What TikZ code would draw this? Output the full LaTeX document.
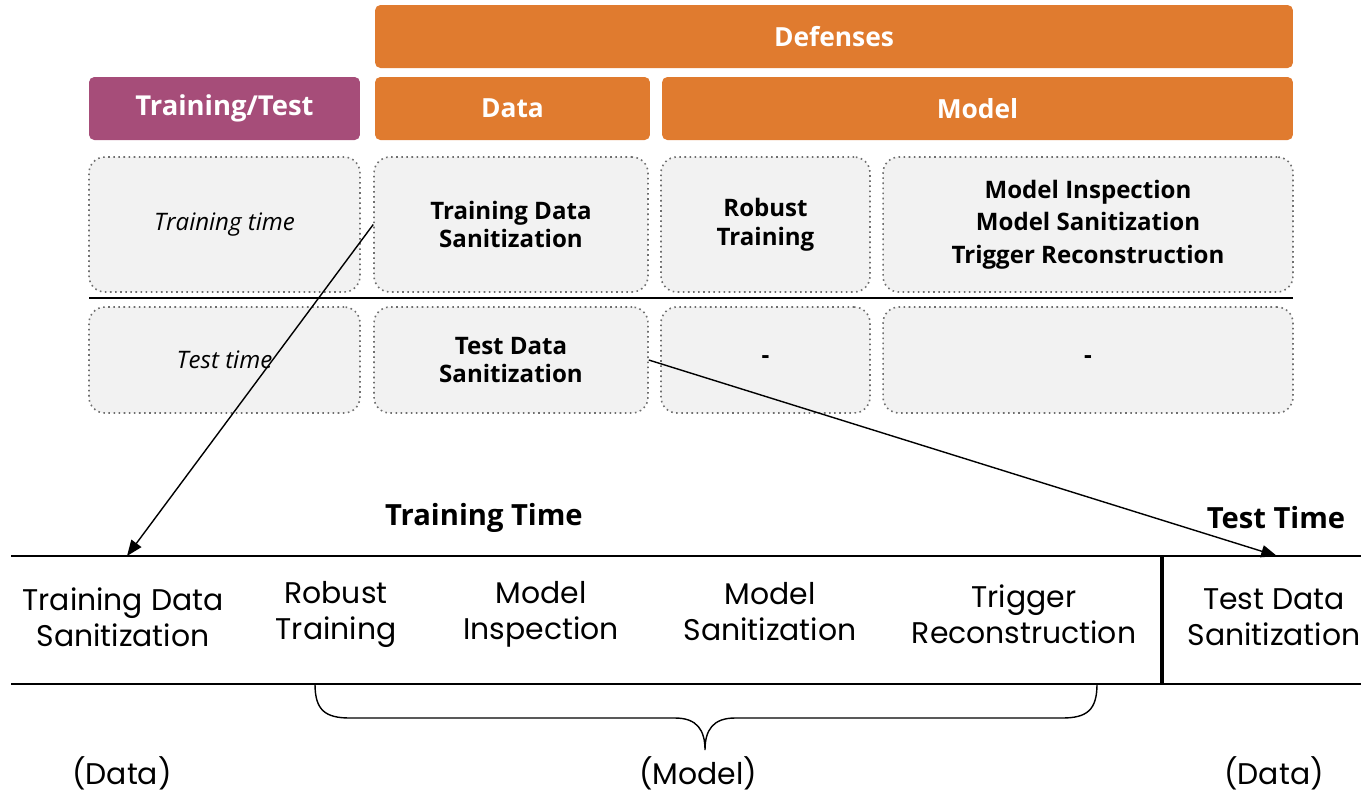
\documentclass[tikz,border=0pt]{standalone}
\usepackage{fontspec}
\setmainfont{Open Sans}
\newfontfamily\geofont{Poppins}
\usetikzlibrary{arrows.meta,positioning,calc}
\definecolor{headorange}{HTML}{E07B2F}
\definecolor{headpurple}{HTML}{A64D79}
\definecolor{cellfill}{HTML}{F2F2F2}
\definecolor{celldots}{HTML}{6E6E6E}

\begin{document}
\begin{tikzpicture}[x=0.02cm, y=-0.02cm,
  header/.style={rounded corners=3pt, minimum height=1.26cm, align=center, text=white, font=\fontsize{15}{18}\selectfont\bfseries, fill=headorange, inner sep=0pt},
  cell/.style={draw=celldots, dotted, line width=0.9pt, rounded corners=9pt, fill=cellfill, align=center, font=\fontsize{13.7}{16.3}\selectfont\bfseries, inner sep=0pt},
  phase/.style={align=center, font=\geofont\fontsize{17}{20.5}\selectfont, inner sep=0pt},
  when/.style={font=\fontsize{16.6}{19}\selectfont\bfseries, inner sep=0pt},
  arr/.style={-{Triangle[length=9pt,width=7pt]}, line width=0.8pt},
  rule/.style={line width=1.1pt}
]
  \useasboundingbox (0,0) rectangle (1361,792);

  % header rows
  \node[header, minimum width=18.36cm] (def) at (834,36.5) {Defenses};
  \node[header, minimum width=5.42cm, fill=headpurple, font=\fontsize{15.6}{18}\selectfont\bfseries] (tt) at (224.5,108.5) {Training/Test};
  \node[header, minimum width=5.5cm] (data) at (512.5,108.5) {Data};
  \node[header, minimum width=12.62cm] (model) at (977.5,108.5) {Model};

  % training row
  \node[cell, minimum width=5.42cm, minimum height=2.7cm, font=\fontsize{13.7}{17}\selectfont\itshape] (trtime) at (224.5,224.5) {Training time};
  \node[cell, minimum width=5.48cm, minimum height=2.7cm] (trdata) at (511,224.5) {Training Data\\Sanitization};
  \node[cell, minimum width=4.18cm, minimum height=2.7cm] (robust) at (765.5,224.5) {Robust\\Training};
  \node[cell, minimum width=8.2cm, minimum height=2.7cm, font=\fontsize{13.7}{18.5}\selectfont\bfseries] (modelops) at (1088,224.5) {Model Inspection\\Model Sanitization\\Trigger Reconstruction};

  \draw[rule] (89,298) -- (1293,298);

  % test row
  \node[cell, minimum width=5.42cm, minimum height=2.12cm, font=\fontsize{13.7}{17}\selectfont\itshape] (tetime) at (224.5,360) {Test time};
  \node[cell, minimum width=5.48cm, minimum height=2.12cm] (tedata) at (511,360) {Test Data\\Sanitization};
  \node[cell, minimum width=4.18cm, minimum height=2.12cm] (terobust) at (765.5,360) {-};
  \node[cell, minimum width=8.2cm, minimum height=2.12cm] (temodel) at (1088,360) {-};

  % timeline
  \coordinate (ttop) at (11,556);
  \coordinate (tend) at (1361,556);
  \coordinate (btop) at (11,684);
  \coordinate (bend) at (1361,684);
  \coordinate (trin) at (127,556);
  \coordinate (tein) at (1277,556);
  \draw[rule] (ttop) -- (tend);
  \draw[rule] (btop) -- (bend);
  \draw[line width=1.8pt] (1162,556) -- (1162,684);

  \node[when] (trtitle) at (484,518) {Training Time};
  \node[when] (tetitle) at (1276,518) {Test Time};

  \node[phase] (p1) at (123,617) {Training Data\\Sanitization};
  \node[phase] (p2) at (336,614) {Robust\\Training};
  \node[phase] (p3) at (541,614) {Model\\Inspection};
  \node[phase] (p4) at (770,612) {Model\\Sanitization};
  \node[phase] (p5) at (1024,614) {Trigger\\Reconstruction};
  \node[phase] (p6) at (1274,617) {Test Data\\Sanitization};

  % brace and groups
  \draw[line width=0.8pt] (315,684) .. controls (315,710) and (325,718) .. (350,718) -- (675,718)
    .. controls (697,718) and (705,730) .. (705,750) .. controls (705,730) and (713,718) .. (735,718)
    -- (1062,718) .. controls (1087,718) and (1097,710) .. (1097,684);
  \node[phase] (g1) at (122,773) {(Data)};
  \node[phase] (g2) at (698,773) {(Model)};
  \node[phase] (g3) at (1274,773) {(Data)};

  \draw[arr] (trdata.west) -- (trin);
  \draw[arr] (tedata.east) -- (tein);
\end{tikzpicture}
\end{document}
